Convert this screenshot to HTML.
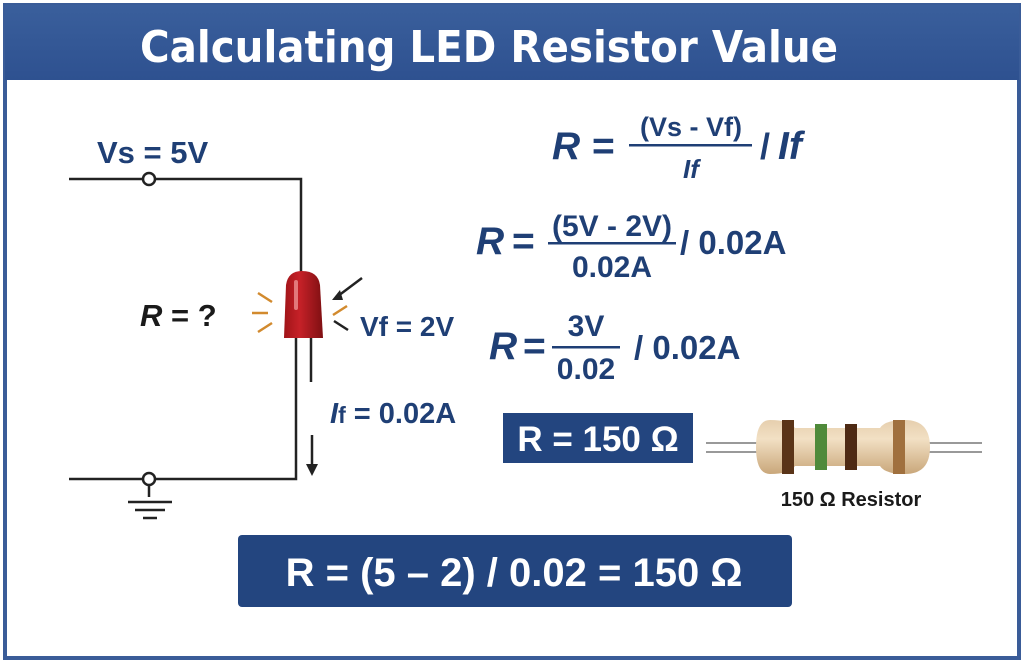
<!DOCTYPE html>
<html><head><meta charset="utf-8"><style>
html,body{margin:0;padding:0;background:#fff;}
svg{display:block;}
text{font-family:"Liberation Sans",sans-serif;font-weight:bold;}
</style></head><body>
<svg width="1024" height="663" viewBox="0 0 1024 663" xmlns="http://www.w3.org/2000/svg">
<defs>
<linearGradient id="hdr" x1="0" y1="0" x2="0" y2="1"><stop offset="0" stop-color="#3a5f9c"/><stop offset="1" stop-color="#2e5190"/></linearGradient>
<linearGradient id="led" x1="0" y1="0" x2="1" y2="0"><stop offset="0" stop-color="#a01418"/><stop offset="0.4" stop-color="#c62128"/><stop offset="1" stop-color="#7e0f12"/></linearGradient>
<linearGradient id="res" x1="0" y1="0" x2="0" y2="1"><stop offset="0" stop-color="#e6cfae"/><stop offset="0.35" stop-color="#f2e0c4"/><stop offset="1" stop-color="#c9a77a"/></linearGradient>
</defs>
<rect x="0" y="0" width="1024" height="663" fill="#fff"/>
<rect x="5" y="5" width="1014" height="653" fill="#fff" stroke="#3a5c98" stroke-width="4"/>
<rect x="5" y="5" width="1014" height="75" fill="url(#hdr)"/>
<text x="489" y="62" font-size="44" fill="#fff" text-anchor="middle" textLength="698" lengthAdjust="spacingAndGlyphs" style="font-family:'DejaVu Sans Condensed','Liberation Sans',sans-serif">Calculating LED Resistor Value</text>

<!-- circuit -->
<g stroke="#222" stroke-width="2.5" fill="none">
<path d="M69 179 H143 M155 179 H301 V273"/>
<path d="M296 338 V479 H155 M143 479 H69"/>
<path d="M149 485 V497 M128 502 H172 M135 510 H165 M143 518 H157"/>
<path d="M311 338 V382"/>
<path d="M312 435 V466"/>
</g>
<circle cx="149" cy="179" r="6" fill="#fff" stroke="#222" stroke-width="2.5"/>
<circle cx="149" cy="479" r="6" fill="#fff" stroke="#222" stroke-width="2.5"/>
<path d="M306 464 L318 464 L312 476 Z" fill="#222"/>
<!-- LED -->
<path d="M284 338 L286 285 Q288 271 302 271 Q318 271 320 285 L323 338 Z" fill="url(#led)"/>
<rect x="294" y="280" width="4" height="30" rx="2" fill="#f2a0a0" opacity="0.7"/>
<g stroke="#d28a2e" stroke-width="2.5">
<path d="M258 293 L272 302 M252 313 H268 M258 332 L272 323 M333 315 L347 306"/>
</g>
<g stroke="#222" stroke-width="2.5">
<path d="M362 278 L338 296 M334 321 L348 330"/>
</g>
<path d="M332 300 L340 290 L343 300 Z" fill="#222"/>

<g fill="#1f3f75">
<text x="97" y="163" font-size="31">Vs = 5V</text>
<text x="360" y="336" font-size="28">Vf = 2V</text>
<text x="330" y="423" font-size="29"><tspan font-style="italic">I</tspan><tspan font-size="23">f</tspan> = 0.02A</text>
</g>
<text x="140" y="326" font-size="31" fill="#1a1a1a"><tspan font-style="italic">R</tspan> = ?</text>

<!-- formulas -->
<g fill="#1f3f75">
<text x="552" y="159" font-size="39" font-style="italic">R</text>
<text x="592" y="159" font-size="39">=</text>
<text x="691" y="136" font-size="27" text-anchor="middle">(Vs - Vf)</text>
<rect x="629" y="144" width="123" height="2.5"/>
<text x="691" y="178" font-size="26" text-anchor="middle" font-style="italic">If</text>
<text x="760" y="159" font-size="36">/</text>
<text x="778" y="159" font-size="39" font-style="italic">If</text>

<text x="476" y="254" font-size="39" font-style="italic">R</text>
<text x="512" y="254" font-size="39">=</text>
<text x="612" y="236" font-size="30" text-anchor="middle">(5V - 2V)</text>
<rect x="548" y="242" width="128" height="2.5"/>
<text x="612" y="277" font-size="30" text-anchor="middle">0.02A</text>
<text x="680" y="254" font-size="33">/ 0.02A</text>

<text x="489" y="359" font-size="39" font-style="italic">R</text>
<text x="523" y="359" font-size="39">=</text>
<text x="586" y="336" font-size="30" text-anchor="middle">3V</text>
<rect x="552" y="346" width="68" height="2.5"/>
<text x="586" y="379" font-size="30" text-anchor="middle">0.02</text>
<text x="634" y="359" font-size="33">/ 0.02A</text>
</g>

<rect x="503" y="413" width="190" height="50" fill="#23457f"/>
<text x="598" y="451" font-size="35" fill="#fff" text-anchor="middle">R = 150 Ω</text>

<!-- resistor -->
<g stroke="#999" stroke-width="2"><path d="M706 443 H770 M706 452 H770 M920 443 H982 M920 452 H982"/></g>
<path d="M770 420 Q756 420 756 447 Q756 474 770 474 Q790 474 795 466 L880 466 Q885 474 905 474 Q930 474 930 447 Q930 420 905 420 Q885 420 880 428 L795 428 Q790 420 770 420 Z" fill="url(#res)"/>
<rect x="782" y="420" width="12" height="54" fill="#5a3418"/>
<rect x="815" y="424" width="12" height="46" fill="#4f8a3a"/>
<rect x="845" y="424" width="12" height="46" fill="#4e2a14"/>
<rect x="893" y="420" width="12" height="54" fill="#a0703e"/>
<text x="851" y="506" font-size="20" fill="#1a1a1a" text-anchor="middle">150 Ω Resistor</text>

<rect x="238" y="535" width="554" height="72" rx="4" fill="#23457f"/>
<text x="514" y="586" font-size="40" fill="#fff" text-anchor="middle">R = (5 – 2) / 0.02 = 150 Ω</text>
</svg>
</body></html>
